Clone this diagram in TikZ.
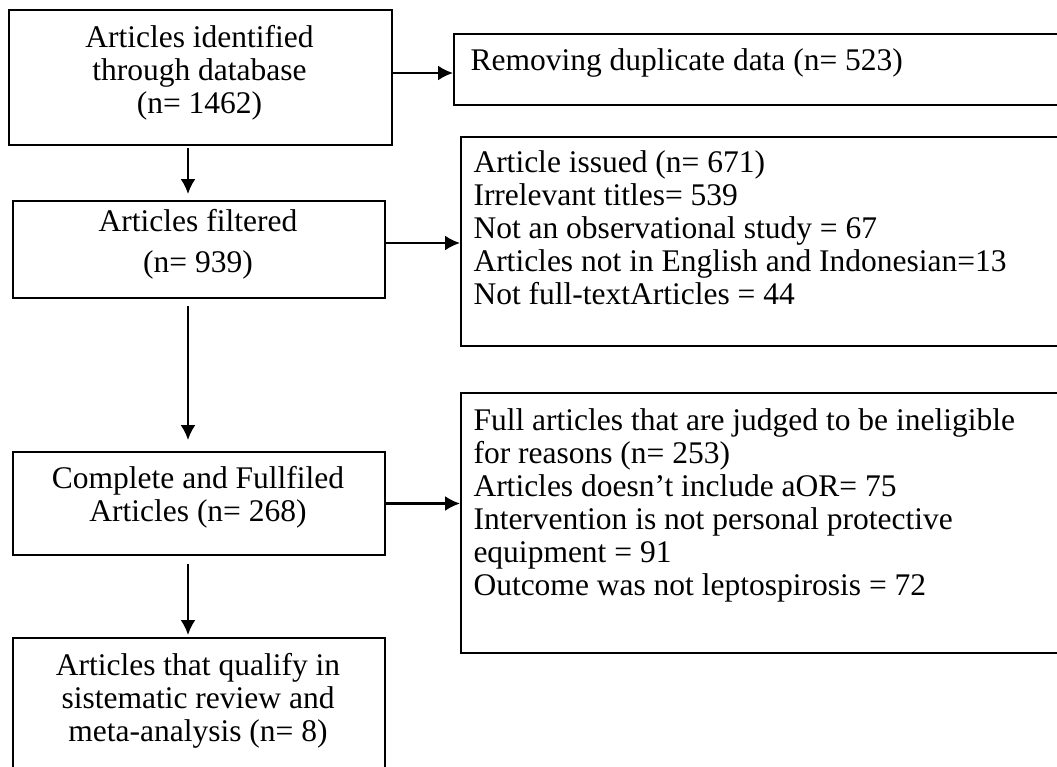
\documentclass[tikz,border=0pt]{standalone}
\usepackage{fontspec}
\setmainfont{Liberation Serif}
\usetikzlibrary{arrows.meta,calc}
\begin{document}
\begin{tikzpicture}[x=0.4pt,y=-0.4pt,
  box/.style={draw, line width=0.8pt, inner sep=0pt, anchor=north west},
  txt/.style={inner sep=0pt, font=\fontsize{12.6}{13.2}\selectfont},
  ctext/.style={txt, align=center, anchor=north},
  ltext/.style={txt, align=left, anchor=north west},
  arr/.style={line width=0.9pt, -{Latex[length=6pt,width=6pt]}}]
\clip (0,0) rectangle (1057,766);
\fill[white] (0,0) rectangle (1057,766);
% left column boxes
\node[box, minimum width=153.2pt, minimum height=54pt] (b1) at (8,9) {};
\node[box, minimum width=148.8pt, minimum height=38.8pt] (b2) at (12,200) {};
\node[box, minimum width=148.8pt, minimum height=41.2pt] (b3) at (12,451) {};
\node[box, minimum width=148.8pt, minimum height=57.2pt] (b4) at (12,637) {};
% right column boxes
\node[box, minimum width=250.8pt, minimum height=28.4pt] (r1) at (453,33) {};
\node[box, minimum width=248pt, minimum height=83.6pt] (r2) at (460,136) {};
\node[box, minimum width=248pt, minimum height=104pt] (r3) at (460,392) {};
% texts
\node[ctext] (t1) at (199.5,24) {\strut Articles identified\\through database\\(n= 1462)};
\node[ctext] (t2) at (198,208) {\strut Articles filtered\\[3.2pt](n= 939)};
\node[ctext] (t3) at (198,465) {\strut Complete and Fullfiled\\Articles (n= 268)};
\node[ctext] (t4) at (198,652) {\strut Articles that qualify in\\sistematic review and\\meta-analysis (n= 8)};
\node[ltext] (u1) at (470,47) {\strut Removing duplicate data (n= 523)};
\node[ltext] (u2) at (473,149) {\strut Article issued (n= 671)\\Irrelevant titles= 539\\Not an observational study = 67\\Articles not in English and Indonesian=13\\Not full-textArticles = 44};
\node[ltext] (u3) at (473,407) {\strut Full articles that are judged to be ineligible\\for reasons (n= 253)\\Articles doesn’t include aOR= 75\\Intervention is not personal protective\\equipment = 91\\Outcome was not leptospirosis = 72};
% connectors
\coordinate (col) at (188,0);
\draw[arr] ([yshift=1.8pt]b1.east) -- ([yshift=1.8pt]b1.east -| r1.west);
\draw[arr] ([yshift=2.6pt]b2.east) -- ([yshift=2.6pt]b2.east -| r2.west);
\draw[arr] (b3.east) -- (b3.east -| r3.west);
\draw[arr, shorten <=0.8pt, shorten >=2.4pt] (b1.south -| col) -- (b2.north -| col);
\draw[arr, shorten <=2.8pt, shorten >=4.4pt] (b2.south -| col) -- (b3.north -| col);
\draw[arr, shorten <=3.2pt, shorten >=0.8pt] (b3.south -| col) -- (b4.north -| col);
\end{tikzpicture}
\end{document}
